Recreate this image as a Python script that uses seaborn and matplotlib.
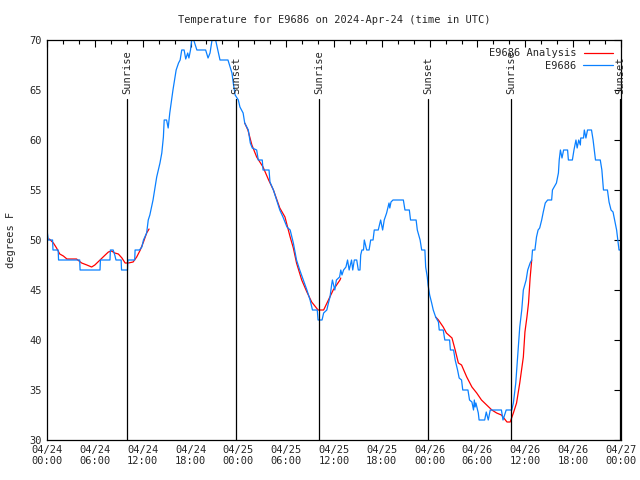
import matplotlib
import matplotlib.pyplot as plt
import numpy as np
import pandas as pd
import seaborn as sns
from matplotlib.lines import Line2D
from matplotlib.ticker import MultipleLocator

matplotlib.use("Agg")

# ── Data (hours since 2024-04-24 00:00 UTC) ──────────────────────────────────

obs_hours = [
    0.0, 0.16, 0.7, 0.75, 1.4, 1.45, 4.1, 4.15, 6.65, 6.7, 7.9, 7.95, 8.3, 8.5, 8.65,
    9.3, 9.35, 10.1, 10.15, 11.0, 11.05, 11.6, 11.9, 12.1, 12.5, 12.7, 12.9, 13.3,
    13.76, 14.17, 14.4, 14.6, 14.7, 15.0, 15.2, 15.4, 15.8, 16.2, 16.5, 16.7, 16.9,
    17.2, 17.4, 17.65, 17.8, 18.0, 18.15, 18.4, 18.8, 19.9, 20.2, 20.45, 20.7, 21.15,
    21.5, 21.7, 22.7, 23.2, 23.4, 23.6, 24.0, 24.2, 24.6, 24.8, 25.25, 25.5, 25.75,
    26.3, 26.5, 27.0, 27.1, 27.85, 27.97, 28.4, 28.8, 29.2, 29.6, 30.1, 30.5, 30.9,
    31.3, 31.7, 32.15, 32.6, 33.0, 33.3, 33.9, 34.0, 34.5, 34.7, 35.1, 35.3, 35.5,
    35.7, 35.8, 36.1, 36.3, 36.7, 36.85, 37.0, 37.2, 37.5, 37.7, 37.9, 38.2, 38.35,
    38.55, 38.85, 39.05, 39.26, 39.35, 39.5, 39.7, 39.8, 40.1, 40.4, 40.6, 40.9,
    41.05, 41.55, 41.85, 42.1, 42.3, 42.6, 42.9, 43.0, 43.15, 43.4, 44.7, 44.9,
    45.45, 45.6, 46.3, 46.45, 46.8, 47.0, 47.4, 47.5, 47.7, 47.8, 48.0, 48.25, 48.45,
    48.75, 49.1, 49.2, 49.7, 49.9, 50.5, 50.6, 51.0, 51.2, 51.5, 51.7, 52.0, 52.15,
    52.8, 53.0, 53.3, 53.5, 53.6, 53.7, 53.8, 54.1, 54.2, 54.9, 55.1, 55.35, 55.6,
    57.0, 57.2, 57.6, 58.3, 58.5, 58.8, 59.1, 59.3, 59.55, 59.75, 60.1, 60.3, 60.6,
    60.8, 60.9, 61.2, 61.4, 61.6, 61.8, 62.05, 62.25, 62.5, 62.8, 63.3, 63.4, 63.9,
    64.15, 64.25, 64.4, 64.6, 64.8, 65.3, 65.4, 65.9, 66.1, 66.35, 66.5, 66.7, 66.9,
    66.95, 67.3, 67.4, 67.6, 67.8, 68.3, 68.5, 68.8, 69.4, 69.6, 69.8, 70.3, 70.5,
    70.75, 71.0, 71.2, 71.45, 71.6, 71.75, 71.9,
]
obs_temps = [
    51, 50, 50, 49, 49, 48, 48, 47, 47, 48, 48, 49, 49, 48.5, 48,
    48, 47, 47, 48, 48, 49, 49, 49.3, 50, 50.7, 52, 52.5, 54,
    56.3, 57.7, 58.7, 60.3, 62, 62, 61.2, 62.7, 65, 67, 67.7, 68, 69,
    69, 68.1, 68.7, 68.2, 69, 70, 70, 69, 69, 68.2, 68.7, 70, 70,
    68.7, 68, 68, 66.7, 65.5, 64.5, 64, 63.3, 62.7, 61.7, 61, 59.7, 59.2,
    59, 58, 58, 57, 57, 55.8, 55, 54, 53, 52.3, 51.3, 51, 49.7,
    48, 47, 46, 45, 44, 43, 43, 42, 42, 42.7, 43, 43.7, 44.3,
    45.5, 46, 45, 46, 46.3, 47, 46.5, 47, 47.3, 48, 47, 48, 47,
    48, 48, 47, 47, 48.5, 49, 49, 50, 49, 49, 50, 50,
    51, 51, 52, 51, 52, 52.7, 53.7, 53.2, 53.8, 54, 54, 53,
    53, 52, 52, 51, 50, 49, 49, 47.3, 46.3, 45.5, 44.5, 43.7, 43,
    42.3, 41.8, 41, 41, 40, 40, 39, 39, 38, 37, 36.2, 36, 35,
    35, 34, 33.8, 33, 34, 33.3, 33.7, 32.7, 32, 32, 32.8, 32, 33,
    33, 32, 33, 33, 33.7, 35.7, 39, 41.3, 43, 45, 46, 47, 47.7,
    48, 49, 49, 50.3, 51, 51.2, 52, 52.8, 53.7, 54, 54, 55, 55.7,
    56.7, 58, 59, 58.2, 59, 59, 58, 58, 59, 60, 59.2, 60, 59.5,
    60.2, 60.2, 61, 60.2, 61, 61, 60, 58, 58, 57, 55, 55, 53.8,
    53, 52.8, 52, 51, 50, 49, 49,
]

# analysis only covers three windows
ana_seg1_hours = [0.3, 0.8, 1.2, 1.6, 2.05, 2.5, 3.7, 4.35, 5.0, 5.6, 6.0, 6.65, 7.3,
                  7.7, 8.1, 8.5, 8.95, 9.4, 9.8, 10.2, 10.8, 11.25, 11.7, 12.1, 12.5, 12.8]
ana_seg1_temps = [50.1, 49.7, 49.2, 48.6, 48.4, 48.1, 48.1, 47.7, 47.5, 47.3, 47.5, 48, 48.5,
                  48.8, 48.9, 48.7, 48.6, 48.2, 47.7, 47.7, 47.8, 48.3, 49, 49.8, 50.7, 51.1]
ana_seg2_hours = [24.8, 25.2, 25.7, 26.3, 27.1, 27.8, 28.4, 29.2, 29.85, 30.5, 30.9,
                  31.3, 31.95, 32.6, 33.2, 34.0, 34.7, 35.3, 35.9, 36.75, 36.85]
ana_seg2_temps = [61.7, 61, 59.5, 58.3, 57.3, 56, 55, 53.2, 52.3, 50.3, 49.2,
                  47.7, 46, 44.8, 43.8, 43, 43, 44, 45, 46, 46.2]
ana_seg3_hours = [48.75, 49.1, 49.7, 50.1, 50.8, 51.2, 51.6, 52.0, 52.65, 53.3, 53.9,
                  54.5, 55.15, 55.8, 56.4, 57.0, 57.7, 58.1, 58.5, 58.9, 59.3, 59.75,
                  59.95, 60.2, 60.4, 60.6, 60.8]
ana_seg3_temps = [42.3, 42, 41.3, 40.7, 40.2, 39, 37.7, 37.5, 36.3, 35.3, 34.7,
                  34, 33.5, 33, 32.7, 32.5, 31.8, 31.8, 32.7, 33.7, 35.7, 38.3,
                  40.8, 42.3, 43.7, 46.2, 48]

sun_events = ["Sunrise", "Sunset", "Sunrise", "Sunset", "Sunrise", "Sunset"]
sun_hours = [10.04, 23.7, 34.1, 47.8, 58.2, 71.9]

tick_labels = ["04/24\n00:00", "04/24\n06:00", "04/24\n12:00", "04/24\n18:00",
               "04/25\n00:00", "04/25\n06:00", "04/25\n12:00", "04/25\n18:00",
               "04/26\n00:00", "04/26\n06:00", "04/26\n12:00", "04/26\n18:00",
               "04/27\n00:00"]

# ── Plot ──────────────────────────────────────────────────────────────────────

sns.set_style("white")
plt.rcParams["font.family"] = ["DejaVu Sans Mono", "DejaVu Sans"]
FS = 7.5
RED = "#ff0000"
BLUE = "#0a80ff"

obs = pd.DataFrame({"hour": obs_hours, "temp": obs_temps})
ana = pd.concat([
    pd.DataFrame({"hour": h, "temp": t, "seg": i})
    for i, (h, t) in enumerate([(ana_seg1_hours, ana_seg1_temps),
                                (ana_seg2_hours, ana_seg2_temps),
                                (ana_seg3_hours, ana_seg3_temps)])
])

fig = plt.figure(figsize=(6.4, 4.8), dpi=100)
ax = fig.add_axes([47 / 640, 40 / 480, 574 / 640, 400 / 480])

sns.lineplot(data=ana, x="hour", y="temp", units="seg", estimator=None,
             color=RED, lw=0.9, ax=ax, sort=False)
sns.lineplot(data=obs, x="hour", y="temp", estimator=None,
             color=BLUE, lw=0.9, ax=ax, sort=False)

line_top = 64.1
for name, h in zip(sun_events, sun_hours):
    ax.plot([h, h], [30, line_top], color="black", lw=0.9)
    ax.text(h, line_top + 0.5, name, rotation=90, ha="center", va="bottom",
            fontsize=FS)

ax.set_xlim(0, 72)
ax.set_ylim(30, 70)
ax.set_xticks(np.arange(0, 73, 6))
ax.set_xticklabels(tick_labels, fontsize=FS)
ax.xaxis.set_minor_locator(MultipleLocator(2))
ax.set_yticks(np.arange(30, 71, 5))
ax.tick_params(axis="y", labelsize=FS)
ax.tick_params(which="both", direction="in", top=True, right=True,
               color="black", width=0.8)
ax.tick_params(which="major", length=5)
ax.tick_params(which="minor", length=3)
for s in ax.spines.values():
    s.set_color("black")
    s.set_linewidth(0.9)

ax.set_xlabel("")
ax.set_ylabel("degrees F", fontsize=FS, labelpad=10)
fig.text(334 / 640, 1 - 20 / 480, "Temperature for E9686 on 2024-Apr-24 (time in UTC)",
         ha="center", va="center", fontsize=FS)

handles = [Line2D([], [], color=RED, lw=0.9), Line2D([], [], color=BLUE, lw=0.9)]
ax.legend(handles, ["E9686 Analysis", "E9686"], loc="upper right", frameon=False,
          markerfirst=False, fontsize=FS, handlelength=2.8, labelspacing=0.25,
          borderaxespad=0.6, handletextpad=0.7, borderpad=0.2)

fig.savefig("out.png", dpi=100)
